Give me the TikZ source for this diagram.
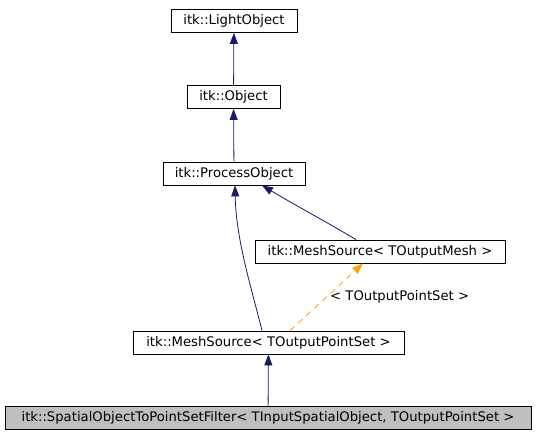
\documentclass[tikz,border=0pt]{standalone}
\usepackage{fontspec}
\setmainfont{DejaVu Sans}
\usetikzlibrary{arrows.meta, positioning}
\definecolor{edgeblue}{HTML}{191970}
\definecolor{tmplorange}{HTML}{FFA500}
\definecolor{curgray}{HTML}{BFBFBF}

\begin{document}
\begin{tikzpicture}[x=1pt, y=-1pt, font=\fontsize{13.2}{15}\selectfont]
        \tikzstyle{cls} = [rectangle, draw, fill=white, inner sep=0pt, minimum height=23pt, line width=0.8pt]
        \tikzstyle{inherit} = [draw=edgeblue, -{Triangle[width=8pt,length=11pt]}, line width=0.8pt]
        \tikzstyle{tmpl} = [draw=tmplorange, -{Triangle[width=8pt,length=11pt]}, dash pattern=on 6pt off 5pt, line width=0.8pt]

        \useasboundingbox (0,0) rectangle (536,437);

        \node [cls, minimum width=126pt] (light) at (234,21) {itk::LightObject};
        \node [cls, minimum width=93pt] (object) at (233.5,97) {itk::Object};
        \node [cls, minimum width=142pt] (process) at (234,173.5) {itk::ProcessObject};
        \node [cls, minimum width=250pt] (meshsrc) at (380,251.5) {itk::MeshSource< TOutputMesh >};
        \node [cls, minimum width=271pt] (pointsrc) at (268.5,342.5) {itk::MeshSource< TOutputPointSet >};
        \node [cls, fill=curgray, minimum width=526pt] (filter) at (268,418) {itk::SpatialObjectToPointSetFilter< TInputSpatialObject, TOutputPointSet >};

        \path [inherit] (object) -- (light);
        \path [inherit] (process) -- (object);
        \path [inherit] ([xshift=-24pt]meshsrc.north) .. controls (330,224) and (295,205) .. ([xshift=28pt]process.south);
        \path [inherit] ([xshift=-6.5pt]pointsrc.north) .. controls (252,290) and (236,240) .. ([xshift=1pt]process.south);
        \path [tmpl] ([xshift=21.5pt]pointsrc.north) -- node [right, text=black] {< TOutputPointSet >} ([xshift=-17pt]meshsrc.south);
        \path [inherit] (filter) -- (pointsrc);
    \end{tikzpicture}
\end{document}
